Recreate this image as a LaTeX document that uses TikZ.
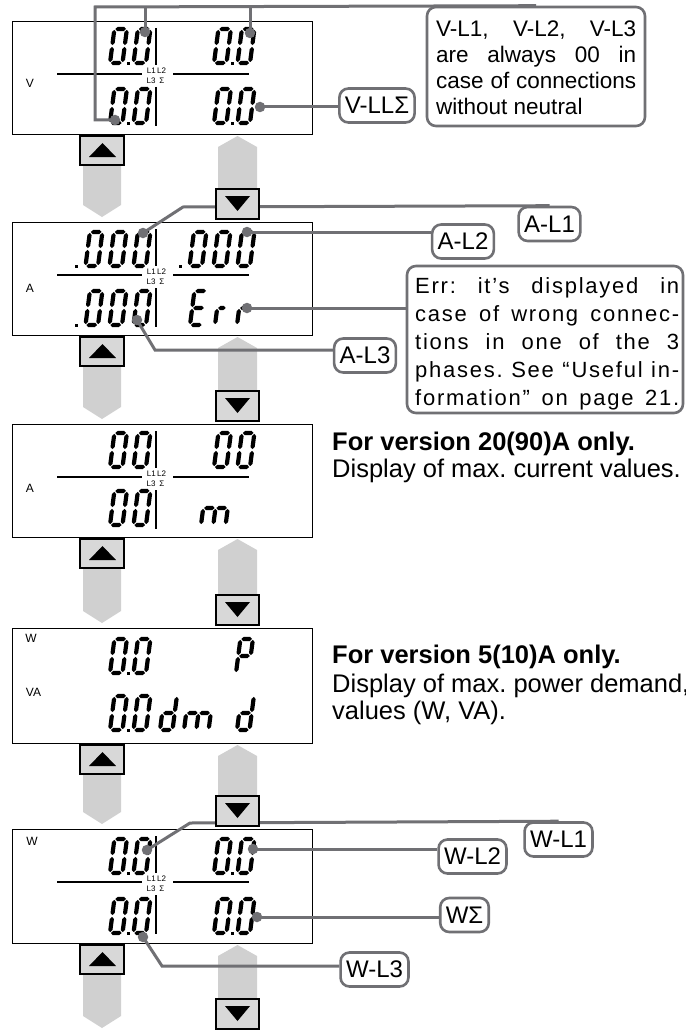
\documentclass[tikz,border=0pt]{standalone}
\usepackage{fontspec}
\setmainfont{Liberation Sans}
\newfontfamily\errfont[LetterSpace=8]{Liberation Sans}
\frenchspacing
\definecolor{ldr}{RGB}{112,112,116}
\definecolor{colg}{RGB}{208,208,208}
\definecolor{btng}{RGB}{216,216,216}
% seven-segment helpers (local coords, y up)
\newcommand\SegH[3]{\fill (#1,#3) -- ({#1+2.1},{#3+2.1}) -- ({#2-2.1},{#3+2.1}) -- (#2,#3) -- ({#2-2.1},{#3-2.1}) -- ({#1+2.1},{#3-2.1}) -- cycle;}
\newcommand\SegV[3]{\fill (#1,#2) -- ({#1+2.1},{#2+2.1}) -- ({#1+2.1},{#3-2.1}) -- (#1,#3) -- ({#1-2.1},{#3-2.1}) -- ({#1-2.1},{#2+2.1}) -- cycle;}
\newcommand\SgA{\SegH{0.9}{11.6}{34}}
\newcommand\SgB{\SegV{12.5}{17.9}{33.1}}
\newcommand\SgC{\SegV{12.5}{0.9}{16.1}}
\newcommand\SgD{\SegH{0.9}{11.6}{0}}
\newcommand\SgE{\SegV{0}{0.9}{16.1}}
\newcommand\SgF{\SegV{0}{17.9}{33.1}}
\newcommand\SgG{\SegH{0.9}{11.6}{17}}
\newcommand\GZ{\SgA\SgB\SgC\SgD\SgE\SgF}
\newcommand\GP{\SgA\SgB\SgE\SgF\SgG}
\newcommand\Gd{\SgB\SgC\SgD\SgE\SgG}
\newcommand\GE{\SgA\SgD\SgE\SgF\SgG}
\newcommand\Gr{\SgE\SegH{0.9}{8.5}{17}}
\newcommand\Gm{\SegV{0}{0.9}{16.1}\SegV{12.3}{0.9}{16.1}\SegV{24.6}{0.9}{16.1}\SegH{0.9}{11.4}{17}\SegH{13.2}{23.7}{17}}
\newcommand\Dg[3]{\begin{scope}[shift={(#1,#2)},xslant=0.13,yscale=-1]#3\end{scope}}
\newcommand\DecPt[2]{\fill ({#1-1.5},{#2}) rectangle ({#1+1.5},{#2-3});}
% navigation columns and buttons
\newcommand\LeftCol[2]{\fill[colg] (83,{#1+31}) -- (121,{#1+31}) -- (121,{#2-17}) -- (102,{#2-5}) -- (83,{#2-17}) -- cycle;}
\newcommand\RightCol[2]{\fill[colg] (218,{#2-33}) -- (218,{#1+13}) -- (237.5,{#1+2}) -- (257,{#1+13}) -- (257,{#2-33}) -- cycle;}
\newcommand\UpBtn[1]{\draw[btnbox] (80,{#1+2}) rectangle (124,{#1+31}); \fill (89,{#1+23}) -- (116,{#1+23}) -- (102.5,{#1+9}) -- cycle;}
\newcommand\DnBtn[1]{\draw[btnbox] (216,{#1-33}) rectangle (259,{#1-3}); \fill (225,{#1-26}) -- (250,{#1-26}) -- (237.5,{#1-11}) -- cycle;}
\newcommand\Deco[2]{%
 \draw[divl] (57,{#1+53}) -- (142,{#1+53}) (173,{#1+53}) -- (249,{#1+53});
 \draw[barl] (156,{#1+7}) -- (156,{#1+44}) (156,{#1+66}) -- (156,{#1+105});
 \node[tinyl] (#2a) at (156.5,{#1+50}) {L1\,L2};
 \node[tinyl] (#2b) at (155.5,{#1+59.5}) {L3\enspace Σ};
}
\begin{document}
\begin{tikzpicture}[x=1pt,y=-1pt,
  panelbox/.style={draw=black,line width=1.3pt,fill=white,rectangle,inner sep=0pt,anchor=north west,minimum width=300pt},
  leader/.style={draw=ldr,line width=3pt},
  dotmark/.style={circle,fill=ldr,inner sep=0pt,minimum size=10.5pt},
  lbl/.style={draw=ldr,line width=2.6pt,rounded corners=9pt,fill=white,inner xsep=5.5pt,inner ysep=0pt,minimum height=34pt,font=\fontsize{24}{26}\selectfont},
  note/.style={draw=ldr,line width=2.6pt,rounded corners=9pt,fill=white,inner sep=0pt},
  btnbox/.style={draw=black,line width=1.2pt,fill=btng},
  unitl/.style={inner sep=0pt,font=\fontsize{12}{12}\selectfont},
  tinyl/.style={inner sep=0pt,font=\fontsize{8}{8}\selectfont},
  divl/.style={draw=black,line width=1.5pt},
  barl/.style={draw=black,line width=2.4pt},
  txt/.style={anchor=base west,inner sep=0pt,font=\fontsize{25.5}{28}\selectfont},
  txtb/.style={anchor=base west,inner sep=0pt,font=\bfseries\fontsize{25.5}{28}\selectfont},
]
\useasboundingbox[fill=white] (0,0) rectangle (685,1030);

% grey navigation columns
\LeftCol{134}{222}\RightCol{134}{222}
\LeftCol{335}{424}\RightCol{335}{424}
\LeftCol{537}{628}\RightCol{537}{628}
\LeftCol{743}{829}\RightCol{743}{829}
\LeftCol{943}{1033}\RightCol{943}{1032}

% display panels
\node[panelbox,minimum height=113pt] (P1) at (12,21) {};
\node[panelbox,minimum height=113pt] (P2) at (12,222) {};
\node[panelbox,minimum height=113pt] (P3) at (12,424) {};
\node[panelbox,minimum height=115pt] (P4) at (12,628) {};
\node[panelbox,minimum height=114pt] (P5) at (12,829) {};

\Deco{21}{t1}
\Deco{222}{t2}
\Deco{424}{t3}
\Deco{829}{t5}

\node[unitl] (uV) at (30,83.5) {V};
\node[unitl] (uA2) at (30,288.5) {A};
\node[unitl] (uA3) at (30,488) {A};
\node[unitl] (uW4) at (31,638.5) {W};
\node[unitl] (uVA) at (33.5,692.5) {VA};
\node[unitl] (uW5) at (32,841.5) {W};

% panel 1 digits
\Dg{110}{63}{\GZ}\Dg{133.5}{63}{\GZ}\DecPt{128.5}{65}
\Dg{214}{63}{\GZ}\Dg{237.5}{63}{\GZ}\DecPt{232.5}{65}
\Dg{110}{123}{\GZ}\Dg{133.5}{123}{\GZ}\DecPt{128.5}{125}
\Dg{214}{123}{\GZ}\Dg{237.5}{123}{\GZ}\DecPt{232.5}{125}
% panel 2 digits
\DecPt{76}{268}\Dg{85.5}{266}{\GZ}\Dg{109.5}{266}{\GZ}\Dg{133.5}{266}{\GZ}
\DecPt{180}{268}\Dg{189.5}{266}{\GZ}\Dg{213.5}{266}{\GZ}\Dg{237.5}{266}{\GZ}
\DecPt{76}{327}\Dg{85.5}{325}{\GZ}\Dg{109.5}{325}{\GZ}\Dg{133.5}{325}{\GZ}
\Dg{190}{325}{\GE}\Dg{215}{325}{\Gr}\Dg{237}{325}{\Gr}
% panel 3 digits
\Dg{110}{467}{\GZ}\Dg{133.5}{467}{\GZ}\Dg{214}{467}{\GZ}\Dg{237.5}{467}{\GZ}
\Dg{110}{525}{\GZ}\Dg{133.5}{525}{\GZ}\Dg{201}{525}{\Gm}
% panel 4 digits
\Dg{110}{673}{\GZ}\Dg{133.5}{673}{\GZ}\DecPt{128.5}{675}\Dg{236}{673}{\GP}
\Dg{110}{730}{\GZ}\Dg{133.5}{730}{\GZ}\DecPt{128.5}{732}\Dg{160}{730}{\Gd}\Dg{184}{730}{\Gm}\Dg{237}{730}{\Gd}
% panel 5 digits
\Dg{110}{873}{\GZ}\Dg{133.5}{873}{\GZ}\DecPt{128.5}{875}
\Dg{214}{873}{\GZ}\Dg{237.5}{873}{\GZ}\DecPt{232.5}{875}
\Dg{110}{933}{\GZ}\Dg{133.5}{933}{\GZ}\DecPt{128.5}{935}
\Dg{214}{933}{\GZ}\Dg{237.5}{933}{\GZ}\DecPt{232.5}{935}

% labels and notes
\node[lbl] (VLL) at (377,105.5) {V-LLΣ};
\node[lbl] (AL1) at (549.5,224) {A-L1};
\node[lbl] (AL2) at (463,241.5) {A-L2};
\node[lbl] (AL3) at (365,355.5) {A-L3};
\node[lbl] (WL1) at (558.5,839.5) {W-L1};
\node[lbl] (WL2) at (472.5,856.5) {W-L2};
\node[lbl] (WS) at (464.5,915) {WΣ};
\node[lbl] (WL3) at (374.5,969.5) {W-L3};
\node[note,minimum width=218pt,minimum height=119pt] (nV) at (536,66.5) {};
\node[note,minimum width=276pt,minimum height=147pt] (nE) at (545,339.5) {};

\node[anchor=north west,inner sep=0pt,align=left,font=\fontsize{22.5}{26}\selectfont] (tV) at (436,21)
 {\makebox[200pt][s]{V-L1, V-L2, V-L3}\\\makebox[200pt][s]{are always 00 in}\\\makebox[200pt][s]{case of connections}\\without neutral};
\node[anchor=north west,inner sep=0pt,align=left,font=\errfont\fontsize{22}{28}\selectfont] (tE) at (415,277)
 {\makebox[264pt][s]{Err: it’s displayed in}\\\makebox[264pt][s]{case of wrong connec-}\\\makebox[264pt][s]{tions in one of the 3}\\\makebox[264pt][s]{phases. See “Useful in-}\\\makebox[264pt][s]{formation” on page 21.}};

% leader lines
\coordinate (cV1) at (145,32);
\coordinate (cV2) at (250,33);
\coordinate (cV3) at (115,120);
\coordinate (cVLL) at (260,107);
\coordinate (jV1) at (145,7);
\coordinate (jV2) at (250,7);
\draw[leader] (cV3) -- (95,120) -- (95,7) -- (nV.north);
\draw[leader] (jV1) -- (cV1);
\draw[leader] (jV2) -- (cV2);
\draw[leader] (cVLL) -- (cVLL -| VLL.west);

\coordinate (cAL1) at (143,233);
\coordinate (cAL2) at (247,232);
\coordinate (cErr) at (247,308);
\coordinate (cAL3) at (137,320);
\coordinate (kAL3) at (155,350);
\draw[leader] (cAL1) -- (183,207) -- (AL1.north);
\draw[leader] (cAL2) -- (cAL2 -| AL2.west);
\draw[leader] (cErr) -- (cErr -| nE.west);
\draw[leader] (cAL3) -- (kAL3) -- (kAL3 -| AL3.west);

\coordinate (cWL1) at (147,850);
\coordinate (cWL2) at (253,849);
\coordinate (cWS) at (257,917);
\coordinate (cWL3) at (143,937);
\coordinate (kWL3) at (162,966);
\draw[leader] (cWL1) -- (190,823) -- (WL1.north);
\draw[leader] (cWL2) -- (cWL2 -| WL2.west);
\draw[leader] (cWS) -- (cWS -| WS.west);
\draw[leader] (cWL3) -- (kWL3) -- (kWL3 -| WL3.west);

\foreach \cname in {cV1,cV2,cV3,cVLL,cAL1,cAL2,cErr,cAL3,cWL1,cWL2,cWS,cWL3}
  \node[dotmark] (d\cname) at (\cname) {};

% buttons
\UpBtn{134}\DnBtn{222}
\UpBtn{335}\DnBtn{424}
\UpBtn{537}\DnBtn{628}
\UpBtn{743}\DnBtn{829}
\UpBtn{943}\DnBtn{1032}

% side texts
\node[txtb] (h1) at (332,450) {For version 20(90)A only.};
\node[txt] (s1) at (332,477) {Display of max. current values.};
\node[txtb] (h2) at (332,663) {For version 5(10)A only.};
\node[txt] (s2) at (332,692) {Display of max. power demand,};
\node[txt] (s3) at (332,719) {values (W, VA).};
\end{tikzpicture}
\end{document}
